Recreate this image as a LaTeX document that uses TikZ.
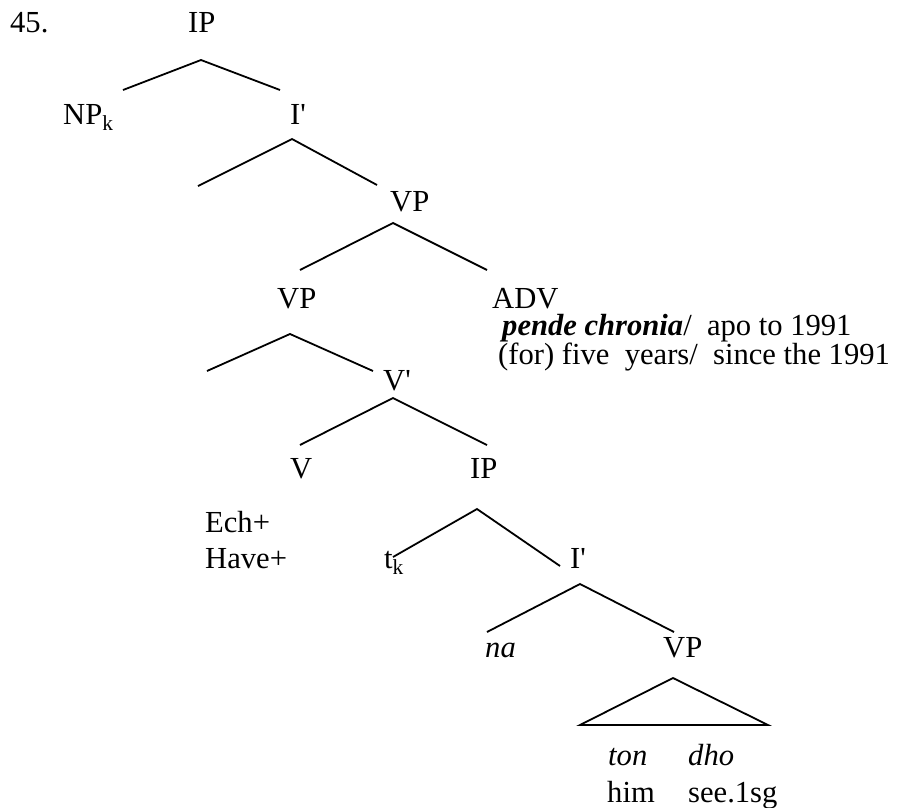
\documentclass[tikz,border=0pt]{standalone}
\usepackage{fontspec}
\setmainfont{Liberation Serif}
\begin{document}
\begin{tikzpicture}[x=1pt,y=-1pt,
  lbl/.style={anchor=base west,inner sep=0pt,font=\fontsize{30.6}{35}\selectfont},
  br/.style={line width=1.8pt,line join=miter}]
\useasboundingbox (0,0) rectangle (898,807);
% labels
\node[lbl] (n45) at (10,32) {45.};
\node[lbl] (ipa) at (188,32) {IP};
\node[lbl] (np) at (63,124) {NP\textsubscript{k}};
\node[lbl] (iba) at (290,124) {I\textquotesingle};
\node[lbl] (vpa) at (390,211) {VP};
\node[lbl] (vpb) at (277,308) {VP};
\node[lbl] (adv) at (492,308) {ADV};
\node[lbl] (advg) at (502,335) {\textbf{\textit{pende chronia}}/~ apo to 1991};
\node[lbl] (advt) at (498,364) {(for) five~ years/~ since the 1991};
\node[lbl] (vbar) at (383,390) {V\textquotesingle};
\node[lbl] (v) at (290,478) {V};
\node[lbl] (ipb) at (470,478) {IP};
\node[lbl] (ech) at (205,532) {Ech+};
\node[lbl] (have) at (205,568) {Have+};
\node[lbl] (tk) at (384,568) {t\textsubscript{k}};
\node[lbl] (ibb) at (570,568) {I\textquotesingle};
\node[lbl] (na) at (485,657) {\textit{na}};
\node[lbl] (vpc) at (663,657) {VP};
\node[lbl] (ton) at (608,765) {\textit{ton}};
\node[lbl] (dho) at (688,765) {\textit{dho}};
\node[lbl] (him) at (607,802) {him};
\node[lbl] (see) at (688,802) {see.1sg};
% branch points
\coordinate (ipaT) at (201,60);  \coordinate (ipaL) at (123,90);  \coordinate (ipaR) at (280,90);
\coordinate (ibaT) at (292,139); \coordinate (ibaL) at (198,186); \coordinate (ibaR) at (377,185);
\coordinate (vpaT) at (393,223); \coordinate (vpaL) at (300,270); \coordinate (vpaR) at (487,270);
\coordinate (vpbT) at (290,334); \coordinate (vpbL) at (207,371); \coordinate (vpbR) at (373,371);
\coordinate (vbarT) at (393,398); \coordinate (vbarL) at (300,445); \coordinate (vbarR) at (487,445);
\coordinate (ipbT) at (477,509); \coordinate (ipbL) at (393,557); \coordinate (ipbR) at (560,566);
\coordinate (ibbT) at (580,584); \coordinate (ibbL) at (487,632); \coordinate (ibbR) at (674,632);
\coordinate (vpcT) at (673,678); \coordinate (vpcL) at (580,725); \coordinate (vpcR) at (768,725);
% branches
\draw[br] (ipaL) -- (ipaT) -- (ipaR);
\draw[br] (ibaL) -- (ibaT) -- (ibaR);
\draw[br] (vpaL) -- (vpaT) -- (vpaR);
\draw[br] (vpbL) -- (vpbT) -- (vpbR);
\draw[br] (vbarL) -- (vbarT) -- (vbarR);
\draw[br] (ipbL) -- (ipbT) -- (ipbR);
\draw[br] (ibbL) -- (ibbT) -- (ibbR);
\draw[br] (vpcL) -- (vpcT) -- (vpcR) -- cycle;
\end{tikzpicture}
\end{document}
